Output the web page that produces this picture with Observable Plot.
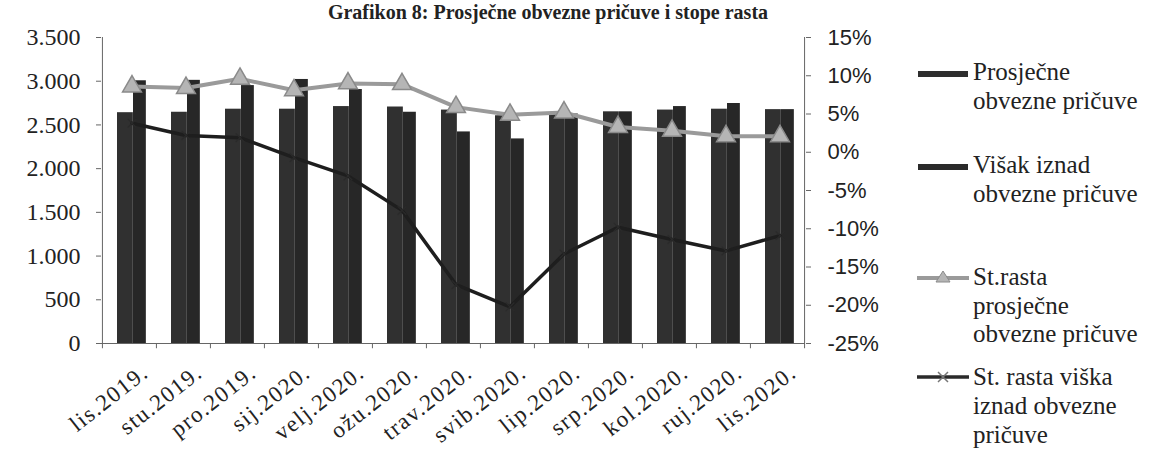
<!DOCTYPE html>
<html><head><meta charset="utf-8">
<script src="https://cdn.jsdelivr.net/npm/d3@7"></script>
<script src="https://cdn.jsdelivr.net/npm/@observablehq/plot@0.6"></script>
<style>
body{margin:0;background:#fff;width:1149px;height:452px;overflow:hidden;position:relative;font-family:"Liberation Serif",serif;color:#222;}
#title{position:absolute;left:0;width:1096px;text-align:center;top:2px;font-weight:bold;font-size:20px;line-height:20px;white-space:nowrap;}
#chart{position:absolute;left:0;top:0;}
.lt{position:absolute;left:973px;font-size:25px;line-height:29px;white-space:nowrap;}
.sw{position:absolute;}
</style></head>
<body>
<div id="chart"></div>
<div id="title">Grafikon 8: Prosječne obvezne pričuve i stope rasta</div>
<div class="sw" style="left:918px;top:71px;width:50px;height:6px;background:#2e2e2e"></div>
<div class="lt" style="top:57px">Prosječne<br>obvezne pričuve</div>
<div class="sw" style="left:918px;top:164px;width:50px;height:6px;background:#2a2a2a"></div>
<div class="lt" style="top:150px">Višak iznad<br>obvezne pričuve</div>
<svg class="sw" style="left:912px;top:266px" width="62" height="24"><line x1="5" x2="57" y1="12" y2="12" stroke="#9a9a9a" stroke-width="4"/><path d="M31,5 L38,16 L24,16 Z" fill="#b5b5b5" stroke="#8a8a8a"/></svg>
<div class="lt" style="top:263px;line-height:28.5px">St.rasta<br>prosječne<br>obvezne pričuve</div>
<svg class="sw" style="left:912px;top:365px" width="62" height="24"><line x1="5" x2="57" y1="12" y2="12" stroke="#2a2a2a" stroke-width="3.5"/><path d="M26,7 L36,17 M36,7 L26,17" stroke="#777" stroke-width="1.5"/></svg>
<div class="lt" style="top:362px">St. rasta viška<br>iznad obvezne<br>pričuve</div>
<script>
const months = ["lis.2019.","stu.2019.","pro.2019.","sij.2020.","velj.2020.","ožu.2020.","trav.2020.","svib.2020.","lip.2020.","srp.2020.","kol.2020.","ruj.2020.","lis.2020."];
const prosjecne = [2640, 2645, 2680, 2680, 2710, 2705, 2670, 2605, 2640, 2650, 2670, 2680, 2675];
const visak = [3005, 3010, 2950, 3020, 2905, 2645, 2420, 2340, 2625, 2650, 2710, 2745, 2675];
const rastProsjecne = [8.6, 8.4, 9.6, 8.1, 9.0, 8.9, 5.9, 4.9, 5.2, 3.3, 2.8, 2.1, 2.1];
const rastViska = [3.8, 2.2, 1.9, -0.7, -3.1, -7.6, -17.3, -20.2, -13.3, -9.8, -11.4, -12.9, -10.9];
const leftTicks = [0, 500, 1000, 1500, 2000, 2500, 3000, 3500];
const rightTicks = [-25, -20, -15, -10, -5, 0, 5, 10, 15];

const rows = months.map((m, i) => ({m, p: prosjecne[i], v: visak[i], gp: rastProsjecne[i], gv: rastViska[i]}));
const yMax = 3500, pMin = -25, pMax = 15;
const toY = p => (p - pMin) / (pMax - pMin) * yMax;
const fromY = y => Math.round(y / yMax * (pMax - pMin) + pMin);
const fmt = d3.formatLocale({decimal: ",", thousands: ".", grouping: [3], currency: ["", ""]}).format(",");
const W = 1149, H = 452, mL = 101, mR = W - 805, mT = 37, mB = H - 343;
const bw = (W - mL - mR) / months.length;
const serif = "Liberation Serif";

const plot = Plot.plot({
  width: W, height: H, marginLeft: mL, marginRight: mR, marginTop: mT, marginBottom: mB,
  style: {fontFamily: serif, color: "#222", background: "transparent", overflow: "visible"},
  x: {type: "band", domain: months, padding: 0},
  y: {domain: [0, yMax]},
  marks: [
    Plot.barY(rows, {x: "m", y: "p", fill: "#303030", insetLeft: 15, insetRight: bw - 31}),
    Plot.barY(rows, {x: "m", y: "v", fill: "#272727", insetLeft: 31, insetRight: bw - 44}),
    Plot.ruleY([0], {stroke: "#666"}),
    Plot.ruleX([months[0]], {x: d => d, dx: -bw / 2, stroke: "#666"}),
    Plot.ruleX([months[months.length - 1]], {x: d => d, dx: bw / 2, stroke: "#666"}),
    Plot.ruleX(months, {x: d => d, dx: -bw / 2, y1: 0, y2: -60, stroke: "#666"}),
    Plot.ruleX([months[months.length - 1]], {x: d => d, dx: bw / 2, y1: 0, y2: -60, stroke: "#666"}),
    Plot.line(rows, {x: "m", y: d => toY(d.gp), stroke: "#9a9a9a", strokeWidth: 4, dx: 2.5}),
    Plot.dot(rows, {x: "m", y: d => toY(d.gp), symbol: "triangle", r: 7, fill: "#b5b5b5", stroke: "#8a8a8a", dx: 2.5}),
    Plot.line(rows, {x: "m", y: d => toY(d.gv), stroke: "#1e1e1e", strokeWidth: 3.5, dx: 2.5}),
    Plot.dot(rows, {x: "m", y: d => toY(d.gv), symbol: "times", r: 4, stroke: "#2a2a2a", strokeWidth: 1.2, dx: 2.5}),
    Plot.axisY({anchor: "left", ticks: leftTicks, tickFormat: fmt, tickSize: 5, tickPadding: 16, fontSize: 24, fontFamily: serif, stroke: "#666", label: null}),
    Plot.axisY({anchor: "right", ticks: rightTicks.map(toY), tickFormat: v => fromY(v) + "%", tickSize: 5, tickPadding: 17, fontSize: 22, fontFamily: "Liberation Sans", stroke: "#666", label: null}),
    Plot.axisX({tickSize: 0, tickRotate: -38, tickPadding: 26, dx: 16, fontSize: 23, fontFamily: serif, label: null})
  ]
});
document.getElementById("chart").appendChild(plot);
d3.select(plot).selectAll("[aria-label='x-axis tick label'] text").style("letter-spacing", "1.5px");
</script>
</body></html>
